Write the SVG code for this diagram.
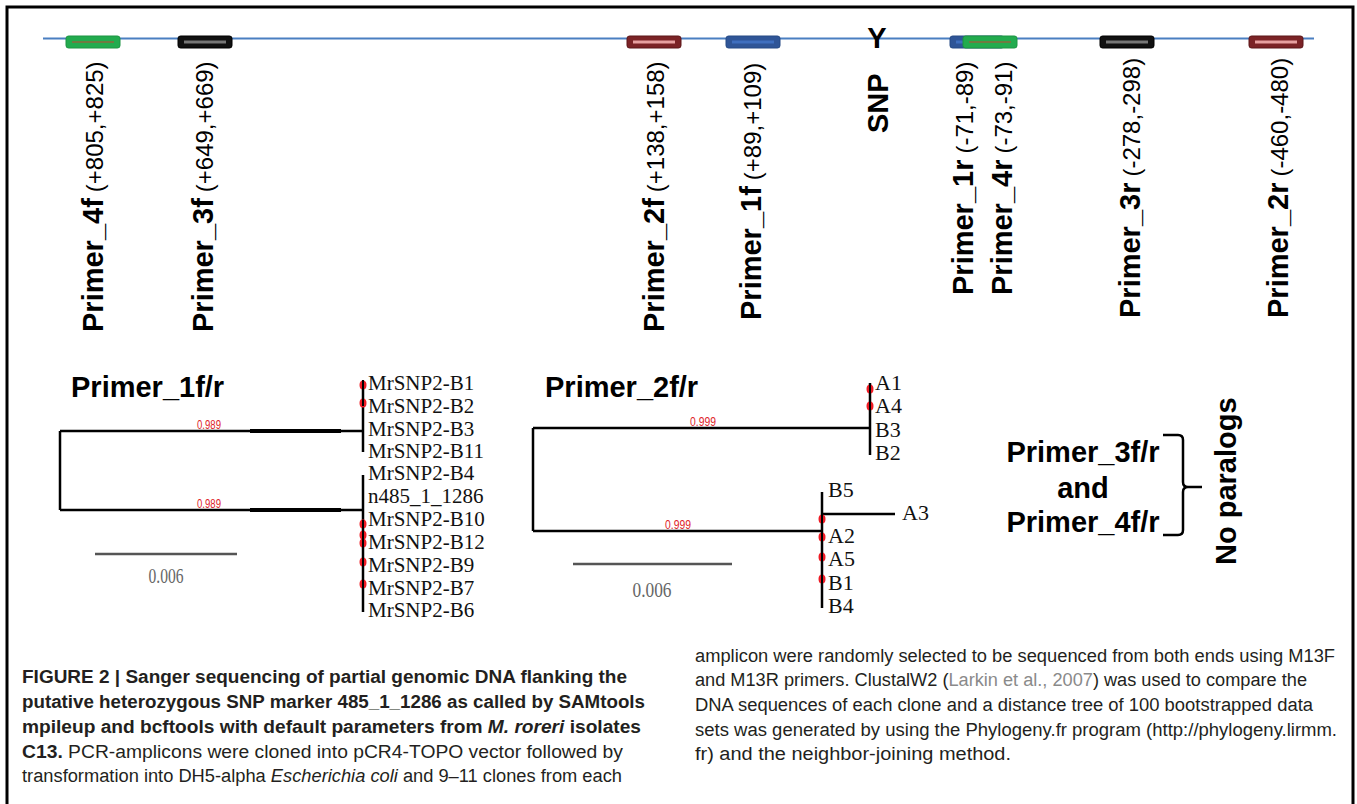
<svg xmlns="http://www.w3.org/2000/svg" width="1357" height="804" viewBox="0 0 1357 804">
<style>
.vb{font-family:"Liberation Sans",Arial,sans-serif;font-weight:bold;font-size:29px;fill:#000}
.vr{font-weight:normal;font-size:24px}
.hd{font-family:"Liberation Sans",Arial,sans-serif;font-weight:bold;font-size:29px;fill:#000}
.leaf{font-family:"Liberation Serif","Times New Roman",serif;font-size:21px;fill:#111}
.leaf2{font-family:"Liberation Serif","Times New Roman",serif;font-size:22px;fill:#111}
.boot{font-family:"Liberation Sans",Arial,sans-serif;font-size:13px;fill:#e0242a}
.sc{font-family:"Liberation Serif","Times New Roman",serif;font-size:22px;fill:#666}
.br{stroke:#000;stroke-width:2.5;fill:none}
.sbar{stroke:#555;stroke-width:2.5}
.dot{fill:#ee1c25}
.cap{font-family:"Liberation Sans",Arial,sans-serif;font-size:18px;fill:#231f20}
.b{font-weight:bold}
.i{font-style:italic}
.red rect{fill:#7b2326;stroke:#5c1719;stroke-width:1}
.red line{stroke:#e7a0a0;stroke-width:3}
.blu rect{fill:#2f5597;stroke:#264a85;stroke-width:1}
.blu line{stroke:#3f6fbf;stroke-width:3}
.grn rect{fill:#22ab4e;stroke:#1c9443;stroke-width:1}
.grn line{stroke:#8a6a3c;stroke-width:1.6}
.blk rect{fill:#111;stroke:#000;stroke-width:1}
.blk line{stroke:#777;stroke-width:3}
</style>

<g id="frame"><path d="M7,804 V7 H1353 V804" fill="none" stroke="#000" stroke-width="3"/></g>

<g id="connectors">
  <line id="backbone" x1="43" y1="38.5" x2="1314" y2="38.5" stroke="#4a7fc1" stroke-width="2"/>
</g>

<g id="primer_4f" class="grn"><rect x="66" y="36" width="54" height="12" rx="2.5"/><line x1="72" y1="42" x2="114" y2="42"/>
  <text class="vb" transform="translate(103,332) rotate(-90)">Primer_4f<tspan class="vr" dx="6">(+805,+825)</tspan></text></g>
<g id="primer_3f" class="blk"><rect x="178" y="36" width="54" height="12" rx="2.5"/><line x1="184" y1="42" x2="226" y2="42"/>
  <text class="vb" transform="translate(213,332) rotate(-90)">Primer_3f<tspan class="vr" dx="6">(+649,+669)</tspan></text></g>
<g id="primer_2f" class="red"><rect x="627" y="36" width="54" height="12" rx="2.5"/><line x1="633" y1="42" x2="675" y2="42"/>
  <text class="vb" transform="translate(664,332) rotate(-90)">Primer_2f<tspan class="vr" dx="6">(+138,+158)</tspan></text></g>
<g id="primer_1f" class="blu"><rect x="726" y="36" width="54" height="12" rx="2.5"/><line x1="732" y1="42" x2="774" y2="42"/>
  <text class="vb" transform="translate(761,320) rotate(-90)">Primer_1f<tspan class="vr" dx="6">(+89,+109)</tspan></text></g>
<g id="snp">
  <text class="vb" x="877" y="48" text-anchor="middle">Y</text>
  <text class="vb" transform="translate(888,133) rotate(-90)">SNP</text></g>
<g id="primer_1r" class="blu"><rect x="950" y="36" width="54" height="12" rx="2.5"/><line x1="956" y1="42" x2="998" y2="42"/>
  <text class="vb" transform="translate(973,295) rotate(-90)">Primer_1r<tspan class="vr" dx="6">(-71,-89)</tspan></text></g>
<g id="primer_4r" class="grn"><rect x="963" y="36" width="54" height="12" rx="2.5"/><line x1="969" y1="42" x2="1011" y2="42"/>
  <text class="vb" transform="translate(1012,295) rotate(-90)">Primer_4r<tspan class="vr" dx="6">(-73,-91)</tspan></text></g>
<g id="primer_3r" class="blk"><rect x="1100" y="36" width="54" height="12" rx="2.5"/><line x1="1106" y1="42" x2="1148" y2="42"/>
  <text class="vb" transform="translate(1140,318) rotate(-90)">Primer_3r<tspan class="vr" dx="6">(-278,-298)</tspan></text></g>
<g id="primer_2r" class="red"><rect x="1249" y="36" width="54" height="12" rx="2.5"/><line x1="1255" y1="42" x2="1297" y2="42"/>
  <text class="vb" transform="translate(1288,318) rotate(-90)">Primer_2r<tspan class="vr" dx="6">(-460,-480)</tspan></text></g>

<g id="tree1">
  <text class="hd" x="71" y="397">Primer_1f/r</text>
  <path class="br" d="M60,431 V510 M60,431 H363 M60,510 H363 M363,382 V452 M363,475 V612"/>
  <path d="M250,431 H341 M250,510 H341" stroke="#000" stroke-width="4"/>
  <text class="boot" x="197" y="429" textLength="24" lengthAdjust="spacingAndGlyphs">0.989</text>
  <text class="boot" x="197" y="508" textLength="24" lengthAdjust="spacingAndGlyphs">0.989</text>
  <g class="dot"><ellipse cx="363" cy="385" rx="3.5" ry="4.5"/><ellipse cx="363" cy="403" rx="3.5" ry="4.5"/><ellipse cx="363" cy="524" rx="3.5" ry="4.5"/><ellipse cx="363" cy="535" rx="3.5" ry="4.5"/><ellipse cx="363" cy="543" rx="3.5" ry="4.5"/><ellipse cx="363" cy="562" rx="3.5" ry="4.5"/><ellipse cx="363" cy="584" rx="3.5" ry="4.5"/></g>
  <path d="M363,380 V406 M363,520 V590" stroke="#000" stroke-width="2"/>
  <g class="leaf">
    <text x="368" y="390">MrSNP2-B1</text>
    <text x="368" y="413">MrSNP2-B2</text>
    <text x="368" y="436">MrSNP2-B3</text>
    <text x="368" y="458">MrSNP2-B11</text>
    <text x="368" y="480">MrSNP2-B4</text>
    <text x="368" y="503">n485_1_1286</text>
    <text x="368" y="526">MrSNP2-B10</text>
    <text x="368" y="549">MrSNP2-B12</text>
    <text x="368" y="572">MrSNP2-B9</text>
    <text x="368" y="595">MrSNP2-B7</text>
    <text x="368" y="617">MrSNP2-B6</text>
  </g>
  <line class="sbar" x1="95" y1="554" x2="237" y2="554"/>
  <text class="sc" x="166" y="583" text-anchor="middle" textLength="35" lengthAdjust="spacingAndGlyphs">0.006</text>
</g>

<g id="tree2">
  <text class="hd" x="545" y="397">Primer_2f/r</text>
  <path class="br" d="M533,428 V531 M533,428 H870 M533,531 H822 M870,383 V455 M822,492 V608 M822,514 H895"/>
  <text class="boot" x="690" y="426" textLength="26" lengthAdjust="spacingAndGlyphs">0.999</text>
  <text class="boot" x="665" y="529" textLength="26" lengthAdjust="spacingAndGlyphs">0.999</text>
  <g class="dot"><ellipse cx="870" cy="389" rx="3.5" ry="4.5"/><ellipse cx="870" cy="406" rx="3.5" ry="4.5"/><ellipse cx="822" cy="519" rx="3.5" ry="4.5"/><ellipse cx="822" cy="537" rx="3.5" ry="4.5"/><ellipse cx="822" cy="557" rx="3.5" ry="4.5"/><ellipse cx="822" cy="579" rx="3.5" ry="4.5"/></g>
  <path d="M870,383 V412 M822,512 V585" stroke="#000" stroke-width="2"/>
  <g class="leaf2">
    <text x="875" y="390">A1</text>
    <text x="875" y="413">A4</text>
    <text x="875" y="437">B3</text>
    <text x="875" y="460">B2</text>
    <text x="828" y="497">B5</text>
    <text x="902" y="520">A3</text>
    <text x="828" y="543">A2</text>
    <text x="828" y="566">A5</text>
    <text x="828" y="590">B1</text>
    <text x="828" y="613">B4</text>
  </g>
  <line class="sbar" x1="573" y1="564" x2="732" y2="564"/>
  <text class="sc" x="652" y="597" text-anchor="middle" textLength="39" lengthAdjust="spacingAndGlyphs">0.006</text>
</g>

<g id="no_paralogs">
  <text class="hd" x="1083" y="462" text-anchor="middle">Primer_3f/r</text>
  <text class="hd" x="1083" y="498" text-anchor="middle">and</text>
  <text class="hd" x="1083" y="532" text-anchor="middle">Primer_4f/r</text>
  <path d="M1163,435 H1178 Q1183,435 1183,440 V482 Q1183,487 1188,487 H1202 M1188,487 Q1183,487 1183,492 V530 Q1183,535 1178,535 H1163" fill="none" stroke="#000" stroke-width="2.5"/>
  <text class="vb" transform="translate(1236,565) rotate(-90)">No paralogs</text>
</g>

<g id="caption" class="cap">
  <text x="22" y="683" class="b" textLength="605" lengthAdjust="spacingAndGlyphs">FIGURE 2 | Sanger sequencing of partial genomic DNA flanking the</text>
  <text x="22" y="708" class="b" textLength="623" lengthAdjust="spacingAndGlyphs">putative heterozygous SNP marker 485_1_1286 as called by SAMtools</text>
  <text x="22" y="733" class="b" textLength="619" lengthAdjust="spacingAndGlyphs">mpileup and bcftools with default parameters from <tspan class="i">M. roreri</tspan> isolates</text>
  <text x="22" y="758" textLength="601" lengthAdjust="spacingAndGlyphs"><tspan class="b">C13.</tspan> PCR-amplicons were cloned into pCR4-TOPO vector followed by</text>
  <text x="22" y="782" textLength="600" lengthAdjust="spacingAndGlyphs">transformation into DH5-alpha <tspan class="i">Escherichia coli</tspan> and 9–11 clones from each</text>
  <text x="695" y="662" textLength="640" lengthAdjust="spacingAndGlyphs">amplicon were randomly selected to be sequenced from both ends using M13F</text>
  <text x="695" y="686" textLength="612" lengthAdjust="spacingAndGlyphs">and M13R primers. ClustalW2 (<tspan fill="#8a8a8a">Larkin et al., 2007</tspan>) was used to compare the</text>
  <text x="695" y="711" textLength="618" lengthAdjust="spacingAndGlyphs">DNA sequences of each clone and a distance tree of 100 bootstrapped data</text>
  <text x="695" y="736" textLength="642" lengthAdjust="spacingAndGlyphs">sets was generated by using the Phylogeny.fr program (http://phylogeny.lirmm.</text>
  <text x="695" y="760" textLength="316" lengthAdjust="spacingAndGlyphs">fr) and the neighbor-joining method.</text>
</g>
</svg>
